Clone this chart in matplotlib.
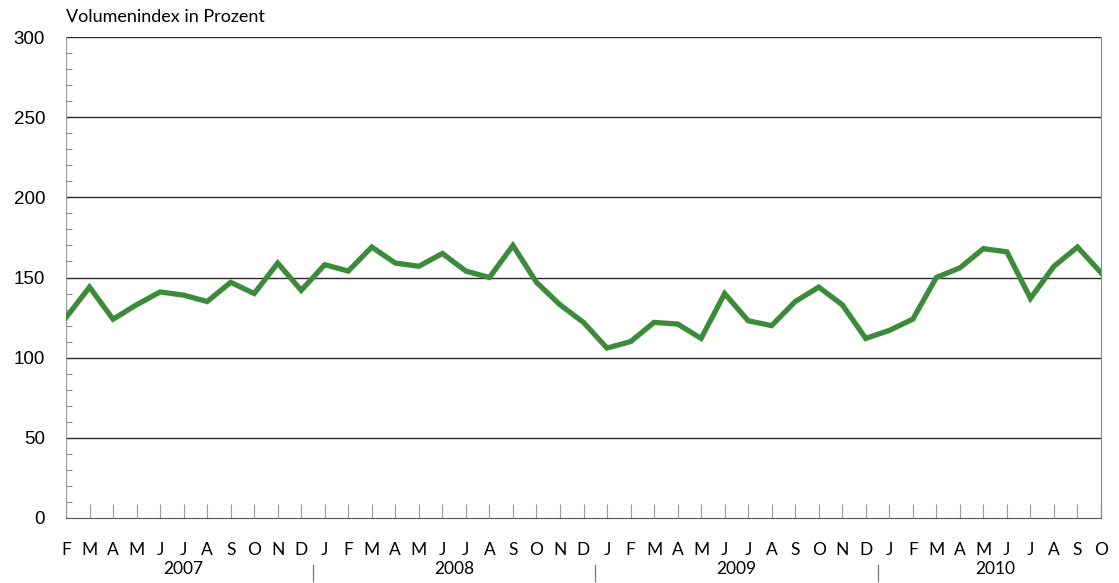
import matplotlib
matplotlib.use("Agg")
import matplotlib.pyplot as plt
import numpy as np

months = ["F","M","A","M","J","J","A","S","O","N","D",
          "J","F","M","A","M","J","J","A","S","O","N","D",
          "J","F","M","A","M","J","J","A","S","O","N","D",
          "J","F","M","A","M","J","J","A","S","O"]
years = ["2007", "2008", "2009", "2010"]
year_counts = [11, 12, 12, 10]
values = [125, 144, 124, 133, 141, 139, 135, 147, 140, 159, 142,
          158, 154, 169, 159, 157, 165, 154, 150, 170, 147, 133, 122,
          106, 110, 122, 121, 112, 140, 123, 120, 135, 144, 133, 112,
          117, 124, 150, 156, 168, 166, 137, 157, 169, 153]
yticks = [0, 50, 100, 150, 200, 250, 300]

W, H = 1119, 583
fig = plt.figure(figsize=(W/100, H/100), dpi=100)
ax = fig.add_axes([66/W, (H-518)/H, (1101-66)/W, (518-37)/H])

x = np.arange(len(values))
for y in yticks[1:]:
    ax.axhline(y, color="#2a2a2a", lw=1.0, zorder=1)
ax.plot(x, values, color="#3b8b3b", lw=3.8, solid_joinstyle="miter", zorder=3)

ax.set_xlim(0, len(values)-1)
ax.set_ylim(0, 300)
ax.set_yticks(yticks)
ax.set_yticklabels([str(v) for v in yticks], fontsize=13.5, family="Liberation Sans")
ax.set_yticks(np.arange(0, 301, 10), minor=True)
ax.tick_params(axis="y", which="major", length=0, pad=15)
ax.tick_params(axis="y", which="minor", direction="in", length=4, color="#888888", width=0.8)

ax.set_xticks(x)
ax.set_xticklabels(months, fontsize=12.5, family="Lato")
ax.tick_params(axis="x", which="major", direction="in", length=10, color="#999999",
               width=0.8, pad=17)

ax.spines["top"].set_visible(False)
ax.spines["left"].set_color("#999999")
ax.spines["right"].set_color("#888888")
ax.spines["bottom"].set_color("#555555")

# year labels and separators
start = 0
for yr, n in zip(years, year_counts):
    center = start + (n-1)/2
    ax.annotate(yr, xy=(center, 0), xycoords=("data", "axes fraction"),
                xytext=(0, -36.5), textcoords="offset points", ha="center", va="center",
                fontsize=12.5, family="Lato")
    start += n
    if start < len(values):
        ax.plot([start-0.5, start-0.5], [-0.098, -0.13], transform=ax.get_xaxis_transform(),
                color="#777777", lw=0.9, clip_on=False)

fig.text(66/W, 1-17/H, "Volumenindex in Prozent", fontsize=13, family="Lato",
         ha="left", va="center")

fig.savefig("out.png", dpi=100, facecolor="white")
